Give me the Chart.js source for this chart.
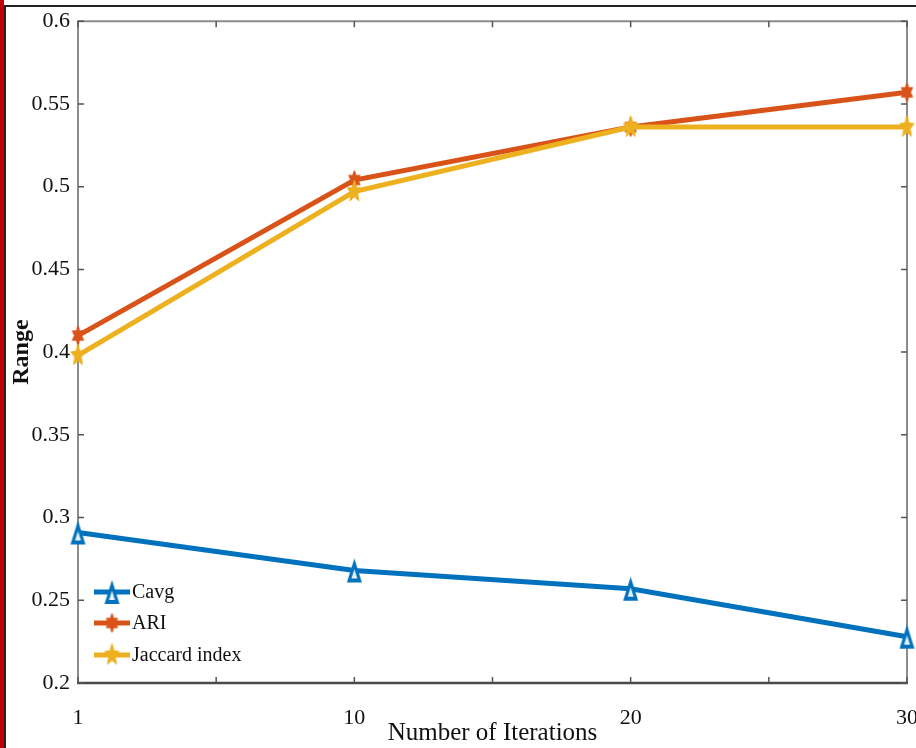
<!DOCTYPE html>
<html lang="en">
<head>
<meta charset="UTF-8">
<title>Range vs Number of Iterations</title>
<script src="https://cdn.jsdelivr.net/npm/chart.js"></script>
<style>
  html, body { margin: 0; padding: 0; background: #fff; }
  #wrap { width: 916px; height: 748px; }
</style>
</head>
<body>
<div id="wrap"><canvas id="rangeChart" width="916" height="748"></canvas></div>
<script>
// values
const iterations = ['1', '10', '20', '30'];
const cavg = [0.291, 0.268, 0.257, 0.228];
const ari = [0.410, 0.504, 0.536, 0.557];
const jaccard = [0.398, 0.497, 0.536, 0.536];
const yTickLabels = ['0.2', '0.25', '0.3', '0.35', '0.4', '0.45', '0.5', '0.55', '0.6'];

const BLUE = '#0072BD', RED = '#D95319', YELLOW = '#EDB120';
const SERIF = '"Liberation Serif", "Times New Roman", serif';

// filled star markers (MATLAB hexagram / pentagram), a bit taller than wide like the figure
function starCanvas(points, inner, color, w, h) {
    const c = document.createElement('canvas');
    c.width = w;
    c.height = h;
    const g = c.getContext('2d');
    const rx = w / 2 - 1, ry = h / 2 - 1, cx = w / 2, cy = h / 2;
    g.beginPath();
    for (let i = 0; i < points * 2; i++) {
        const a = -Math.PI / 2 + i * Math.PI / points;
        const k = i % 2 ? inner : 1;
        g.lineTo(cx + rx * k * Math.cos(a), cy + ry * k * Math.sin(a));
    }
    g.closePath();
    g.fillStyle = color;
    g.fill();
    g.strokeStyle = color;
    g.lineWidth = 1;
    g.stroke();
    return c;
}

// tall triangle, thick blue outline with small white centre
function triangleCanvas(color, w, h) {
    const c = document.createElement('canvas');
    c.width = w;
    c.height = h;
    const g = c.getContext('2d');
    g.beginPath();
    g.moveTo(w / 2, 1);
    g.lineTo(w - 1, h - 1);
    g.lineTo(1, h - 1);
    g.closePath();
    g.fillStyle = color;
    g.fill();
    g.beginPath();
    g.moveTo(w / 2, h * 0.45);
    g.lineTo(w / 2 + 3, h - 5);
    g.lineTo(w / 2 - 3, h - 5);
    g.closePath();
    g.fillStyle = '#e8f1fa';
    g.fill();
    return c;
}

const triangle = triangleCanvas(BLUE, 17, 26);
const hexagram = starCanvas(6, 0.55, RED, 15, 21);
const pentagram = starCanvas(5, 0.45, YELLOW, 17, 25);

const toPoints = arr => arr.map((v, i) => ({ x: i, y: v }));

// outer frame of the screenshot (red bar, dark rules)
const framePlugin = {
    id: 'frame',
    beforeDraw(chart) {
        const { ctx, width, height } = chart;
        ctx.save();
        ctx.fillStyle = '#fff';
        ctx.fillRect(0, 0, width, height);
        ctx.fillStyle = '#c00000';
        ctx.fillRect(0, 0, 4, height);
        ctx.fillStyle = '#222';
        ctx.fillRect(4, 5, 2, height - 5);
        ctx.fillRect(4, 5, width - 4, 2);
        ctx.restore();
    }
};

// MATLAB style box with inward ticks
const axisBoxPlugin = {
    id: 'axisBox',
    beforeDatasetsDraw(chart) {
        const { ctx, chartArea: a, scales: { x, y } } = chart;
        ctx.save();
        ctx.lineCap = 'butt';
        ctx.strokeStyle = '#8c8c8c';
        ctx.lineWidth = 2;
        ctx.beginPath();
        ctx.moveTo(a.left, a.bottom);
        ctx.lineTo(a.left, a.top);
        ctx.lineTo(a.right, a.top);
        ctx.lineTo(a.right, a.bottom);
        ctx.stroke();
        ctx.strokeStyle = '#4a4a4a';
        ctx.lineWidth = 2.5;
        ctx.beginPath();
        ctx.moveTo(a.left - 1, a.bottom);
        ctx.lineTo(a.right + 1, a.bottom);
        ctx.stroke();

        ctx.strokeStyle = '#555';
        ctx.lineWidth = 1.5;
        const len = 6;
        ctx.beginPath();
        y.ticks.forEach(t => {
            const py = y.getPixelForValue(t.value);
            ctx.moveTo(a.left, py); ctx.lineTo(a.left + len, py);
            ctx.moveTo(a.right, py); ctx.lineTo(a.right - len, py);
        });
        x.ticks.forEach(t => {
            const px = x.getPixelForValue(t.value);
            ctx.moveTo(px, a.bottom); ctx.lineTo(px, a.bottom - len);
            ctx.moveTo(px, a.top); ctx.lineTo(px, a.top + len);
        });
        ctx.stroke();
        ctx.restore();
    }
};

// legend inside the plot, lower left
const innerLegendPlugin = {
    id: 'innerLegend',
    afterDatasetsDraw(chart) {
        const { ctx, chartArea: a } = chart;
        const rows = [a.bottom - 91, a.bottom - 60, a.bottom - 28];
        ctx.save();
        chart.data.datasets.forEach((ds, i) => {
            const yy = rows[i];
            const x0 = a.left + 16, x1 = a.left + 52, xm = (x0 + x1) / 2;
            ctx.strokeStyle = ds.borderColor;
            ctx.lineWidth = 5;
            ctx.beginPath();
            ctx.moveTo(x0, yy);
            ctx.lineTo(x1, yy);
            ctx.stroke();
            const img = ds.pointStyle;
            ctx.drawImage(img, xm - img.width / 2, yy - img.height / 2);
            ctx.fillStyle = '#111';
            ctx.font = '20px ' + SERIF;
            ctx.textBaseline = 'middle';
            ctx.textAlign = 'left';
            ctx.fillText(ds.label, x1 + 2, yy + 1);
        });
        ctx.restore();
    }
};

const ctx = document.getElementById('rangeChart').getContext('2d');
new Chart(ctx, {
    type: 'line',
    data: {
        datasets: [
            {
                label: 'Cavg',
                data: toPoints(cavg),
                borderColor: BLUE,
                borderWidth: 5,
                pointStyle: triangle,
                order: 2,
                clip: false
            },
            {
                label: 'ARI',
                data: toPoints(ari),
                borderColor: RED,
                borderWidth: 5,
                pointStyle: hexagram,
                order: 1,
                clip: false
            },
            {
                label: 'Jaccard index',
                data: toPoints(jaccard),
                borderColor: YELLOW,
                borderWidth: 5,
                pointStyle: pentagram,
                order: 0,
                clip: false
            }
        ]
    },
    options: {
        responsive: false,
        animation: false,
        layout: { padding: { top: 21, right: 7, bottom: 0, left: 0 } },
        plugins: {
            legend: { display: false },
            tooltip: { enabled: false }
        },
        elements: { line: { tension: 0 } },
        scales: {
            x: {
                type: 'linear',
                min: 0,
                max: 3,
                grid: { display: false, drawTicks: false },
                border: { display: false },
                ticks: {
                    stepSize: 0.5,
                    autoSkip: false,
                    maxRotation: 0,
                    padding: 22,
                    color: '#111',
                    font: { family: SERIF, size: 22 },
                    callback: v => Number.isInteger(v) ? iterations[v] : ''
                },
                title: {
                    display: true,
                    text: 'Number of Iterations',
                    color: '#111',
                    font: { family: SERIF, size: 25 },
                    padding: { top: 0, bottom: 0 }
                },
                afterFit(scale) {
                    scale.height = 65;
                    scale.paddingLeft = 0;
                    scale.paddingRight = 0;
                }
            },
            y: {
                min: 0.2,
                max: 0.6,
                grid: { display: false, drawTicks: false },
                border: { display: false },
                ticks: {
                    stepSize: 0.05,
                    padding: 8,
                    color: '#111',
                    font: { family: SERIF, size: 22 },
                    callback: (v, i) => yTickLabels[i]
                },
                title: {
                    display: true,
                    text: 'Range',
                    color: '#111',
                    font: { family: SERIF, size: 24, weight: 'bold' },
                    padding: { top: 7, bottom: 0 }
                },
                afterFit(scale) {
                    scale.width = 78;
                }
            }
        }
    },
    plugins: [framePlugin, axisBoxPlugin, innerLegendPlugin]
});
</script>
</body>
</html>
